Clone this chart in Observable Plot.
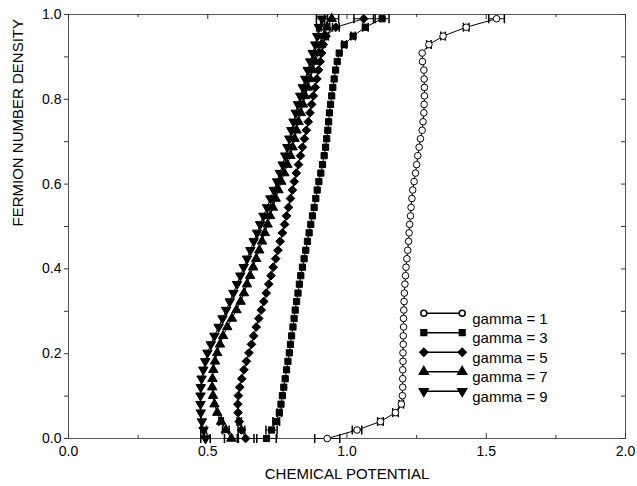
<!DOCTYPE html>
<html><head><meta charset="utf-8">
<script src="https://cdn.jsdelivr.net/npm/d3@7"></script>
<script src="https://cdn.jsdelivr.net/npm/@observablehq/plot@0.6"></script>
<style>body{margin:0;background:#fff}#chart{width:637px;height:486px}</style>
</head><body><div id="chart"></div>
<script>
// fermion number density (shared y grid)
const density = [0,0.020,0.040,0.061,0.081,0.101,0.121,0.141,0.162,0.182,
  0.202,0.222,0.242,0.263,0.283,0.303,0.323,0.343,0.364,0.384,
  0.404,0.424,0.444,0.465,0.485,0.505,0.525,0.545,0.566,0.586,
  0.606,0.626,0.646,0.667,0.687,0.707,0.727,0.747,0.768,0.788,
  0.808,0.828,0.848,0.869,0.889,0.909,0.929,0.949,0.970,0.990];
// chemical potential per gamma
const mu1 = [0.929,1.036,1.120,1.174,1.195,1.199,1.200,1.200,1.200,1.201,
  1.201,1.202,1.202,1.203,1.203,1.204,1.205,1.206,1.208,1.210,
  1.212,1.215,1.218,1.221,1.223,1.225,1.228,1.230,1.233,1.236,
  1.241,1.246,1.250,1.254,1.259,1.264,1.270,1.273,1.276,1.277,
  1.278,1.278,1.277,1.276,1.271,1.270,1.294,1.345,1.428,1.537];
const mu3 = [0.711,0.729,0.746,0.757,0.763,0.768,0.773,0.778,0.783,0.788,
  0.793,0.797,0.801,0.806,0.810,0.814,0.819,0.824,0.829,0.834,
  0.840,0.846,0.852,0.858,0.864,0.870,0.876,0.882,0.888,0.893,
  0.899,0.906,0.912,0.918,0.923,0.927,0.931,0.934,0.937,0.941,
  0.945,0.949,0.954,0.959,0.965,0.972,0.990,1.022,1.066,1.126];
const mu5 = [0.636,0.621,0.613,0.609,0.608,0.610,0.615,0.622,0.630,0.639,
  0.648,0.657,0.665,0.674,0.683,0.692,0.701,0.710,0.719,0.727,
  0.735,0.744,0.752,0.760,0.768,0.776,0.783,0.790,0.797,0.804,
  0.811,0.818,0.826,0.833,0.840,0.847,0.854,0.861,0.867,0.873,
  0.879,0.886,0.892,0.898,0.904,0.909,0.915,0.925,0.960,1.060];
const mu7 = [0.585,0.565,0.548,0.534,0.524,0.519,0.516,0.517,0.520,0.526,
  0.534,0.544,0.555,0.570,0.587,0.603,0.618,0.630,0.641,0.652,
  0.663,0.674,0.685,0.695,0.705,0.715,0.724,0.734,0.744,0.754,
  0.764,0.775,0.786,0.797,0.805,0.812,0.819,0.826,0.834,0.842,
  0.850,0.859,0.868,0.877,0.886,0.898,0.908,0.918,0.928,0.945];
const mu9 = [0.492,0.485,0.479,0.475,0.474,0.474,0.475,0.478,0.484,0.491,
  0.499,0.511,0.524,0.539,0.553,0.566,0.579,0.592,0.605,0.617,
  0.629,0.641,0.653,0.665,0.677,0.688,0.700,0.713,0.725,0.737,
  0.749,0.759,0.769,0.778,0.786,0.793,0.800,0.808,0.816,0.824,
  0.832,0.841,0.850,0.859,0.868,0.877,0.886,0.893,0.899,0.910];
// horizontal error bars (half-widths)
const err1 = [0.045,0.017,0.010,0.010,0.008,0,0,0,0,0, 0,0,0,0,0,0,0,0,0,0, 0,0,0,0,0,0,0,0,0,0, 0,0,0,0,0,0,0,0,0,0, 0,0,0,0,0,0,0.008,0.008,0.010,0.028];
const err3 = [0.035,0.020,0.012,0.008,0,0,0,0,0,0, 0,0,0,0,0,0,0,0,0,0, 0,0,0,0,0,0,0,0,0,0, 0,0,0,0,0,0,0,0,0,0, 0,0,0,0,0,0,0.008,0.008,0.010,0.025];
const err5 = [0.030,0.012,0.008,0,0,0,0,0,0,0, 0,0,0,0,0,0,0,0,0,0, 0,0,0,0,0,0,0,0,0,0, 0,0,0,0,0,0,0,0,0,0, 0,0,0,0,0,0,0,0.008,0.012,0.035];
const err7 = [0.025,0.012,0.008,0,0,0,0,0,0,0, 0,0,0,0,0,0,0,0,0,0, 0,0,0,0,0,0,0,0,0,0, 0,0,0,0,0,0,0,0,0,0, 0,0,0,0,0,0,0,0,0.010,0.025];
const err9 = [0.017,0.010,0,0,0,0,0,0,0,0, 0,0,0,0,0,0,0,0,0,0, 0,0,0,0,0,0,0,0,0,0, 0,0,0,0,0,0,0,0,0,0, 0,0,0,0,0,0,0,0,0.008,0.020];
const seriesNames = ["gamma = 1","gamma = 3","gamma = 5","gamma = 7","gamma = 9"];
const xTickValues = [0,0.25,0.5,0.75,1,1.25,1.5,1.75,2];
const xLabelValues = [0,0.5,1,1.5,2];
const yTickValues = [0,0.1,0.2,0.3,0.4,0.5,0.6,0.7,0.8,0.9,1];
const yLabelValues = [0,0.2,0.4,0.6,0.8,1];
const xTitle = "CHEMICAL POTENTIAL";
const yTitle = "FERMION NUMBER DENSITY";

const W = 637, H = 486, mL = 68, mR = 12, mT = 14, mB = 48;
const fw = W - mL - mR, fh = H - mT - mB;
const font = "Liberation Sans, Arial, Helvetica, sans-serif";

const downTriangle = {draw(ctx, size) {
  const y = -Math.sqrt(size / (Math.sqrt(3) * 3));
  ctx.moveTo(0, -2 * y); ctx.lineTo(-Math.sqrt(3) * y, y); ctx.lineTo(Math.sqrt(3) * y, y); ctx.closePath();
}};
const capSymbol = {draw(ctx) { ctx.moveTo(0, -4.5); ctx.lineTo(0, 4.5); }};
const legendLine = {draw(ctx) { ctx.moveTo(-19.2, 0); ctx.lineTo(19.2, 0); }};

const muList = [mu1, mu3, mu5, mu7, mu9];
const errList = [err1, err3, err5, err7, err9];
const styles = [
  {symbol: "circle", r: 3.3, fill: "white", lr: 3.0},
  {symbol: "square", r: 3.5, fill: "black", lr: 3.2},
  {symbol: "diamond2", r: 3.9, fill: "black", lr: 3.6},
  {symbol: "triangle", r: 3.5, fill: "black", lr: 3.3},
  {symbol: downTriangle, r: 3.5, fill: "black", lr: 3.3}
];
const rows = [];
seriesNames.forEach((name, s) => density.forEach((y, k) =>
  rows.push({series: name, s, x: muList[s][k], y, err: errList[s][k]})));
const errRows = rows.filter(d => d.err > 0);

const majorX = xTickValues.filter(v => xLabelValues.includes(v));
const minorX = xTickValues.filter(v => !xLabelValues.includes(v));

const marks = [
  Plot.frame({stroke: "#555"}),
  Plot.tickX(majorX, {x: d => d, insetTop: fh - 5, stroke: "#333"}),
  Plot.tickX(minorX, {x: d => d, insetTop: fh - 3, stroke: "#333"}),
  Plot.tickX(majorX, {x: d => d, insetBottom: fh - 5, stroke: "#333"}),
  Plot.tickX(minorX, {x: d => d, insetBottom: fh - 3, stroke: "#333"}),
  Plot.tickY(yTickValues, {y: d => d, insetLeft: fw - 4, stroke: "#333"}),
  Plot.axisY({ticks: yTickValues, tickSize: 4, tickPadding: 3, stroke: "#333",
    tickFormat: d => yLabelValues.some(v => Math.abs(v - d) < 1e-9) ? d.toFixed(1) : "",
    fontSize: 14, label: null}),
  Plot.axisX({ticks: xLabelValues, tickSize: 0, tickPadding: 8, tickFormat: d => d.toFixed(1), fontSize: 14, label: null}),
  Plot.text([xTitle], {frameAnchor: "bottom", dy: 40, fontSize: 15}),
  Plot.text([yTitle], {frameAnchor: "left", dx: -50, rotate: -90, fontSize: 15}),
  Plot.line(rows, {x: "x", y: "y", z: "series", stroke: "black", strokeWidth: 1}),
  Plot.ruleY(errRows, {y: "y", x1: d => d.x - d.err, x2: d => d.x + d.err, stroke: "black", strokeWidth: 1}),
  Plot.dot(errRows, {x: d => d.x - d.err, y: "y", symbol: capSymbol, r: 3, stroke: "black", fill: "none"}),
  Plot.dot(errRows, {x: d => d.x + d.err, y: "y", symbol: capSymbol, r: 3, stroke: "black", fill: "none"})
];
styles.forEach((st, s) => {
  marks.push(Plot.dot(rows.filter(d => d.s === s), {x: "x", y: "y", symbol: st.symbol, r: st.r,
    fill: st.fill, stroke: "black", strokeWidth: 1}));
});
// legend
const legX = 355.3, legY = 298.7, legStep = 19.5, legLen = 38.4;
seriesNames.forEach((name, s) => {
  const st = styles[s];
  const dy = legY + s * legStep;
  marks.push(Plot.dot([0], {frameAnchor: "top-left", dx: legX + legLen / 2, dy, symbol: legendLine, r: 3, stroke: "black", fill: "none"}));
  marks.push(Plot.dot([0], {frameAnchor: "top-left", dx: legX, dy, symbol: st.symbol, r: st.lr, fill: st.fill, stroke: "black"}));
  marks.push(Plot.dot([0], {frameAnchor: "top-left", dx: legX + legLen, dy, symbol: st.symbol, r: st.lr, fill: st.fill, stroke: "black"}));
  marks.push(Plot.text([name], {frameAnchor: "top-left", dx: legX + legLen + 10, dy, textAnchor: "start", fontSize: 15}));
});

const chart = Plot.plot({
  width: W, height: H,
  marginLeft: mL, marginRight: mR, marginTop: mT, marginBottom: mB,
  style: {fontFamily: font, background: "white", color: "black"},
  x: {domain: [0, 2]},
  y: {domain: [0, 1]},
  marks
});
document.getElementById("chart").appendChild(chart);
</script>
</body></html>
